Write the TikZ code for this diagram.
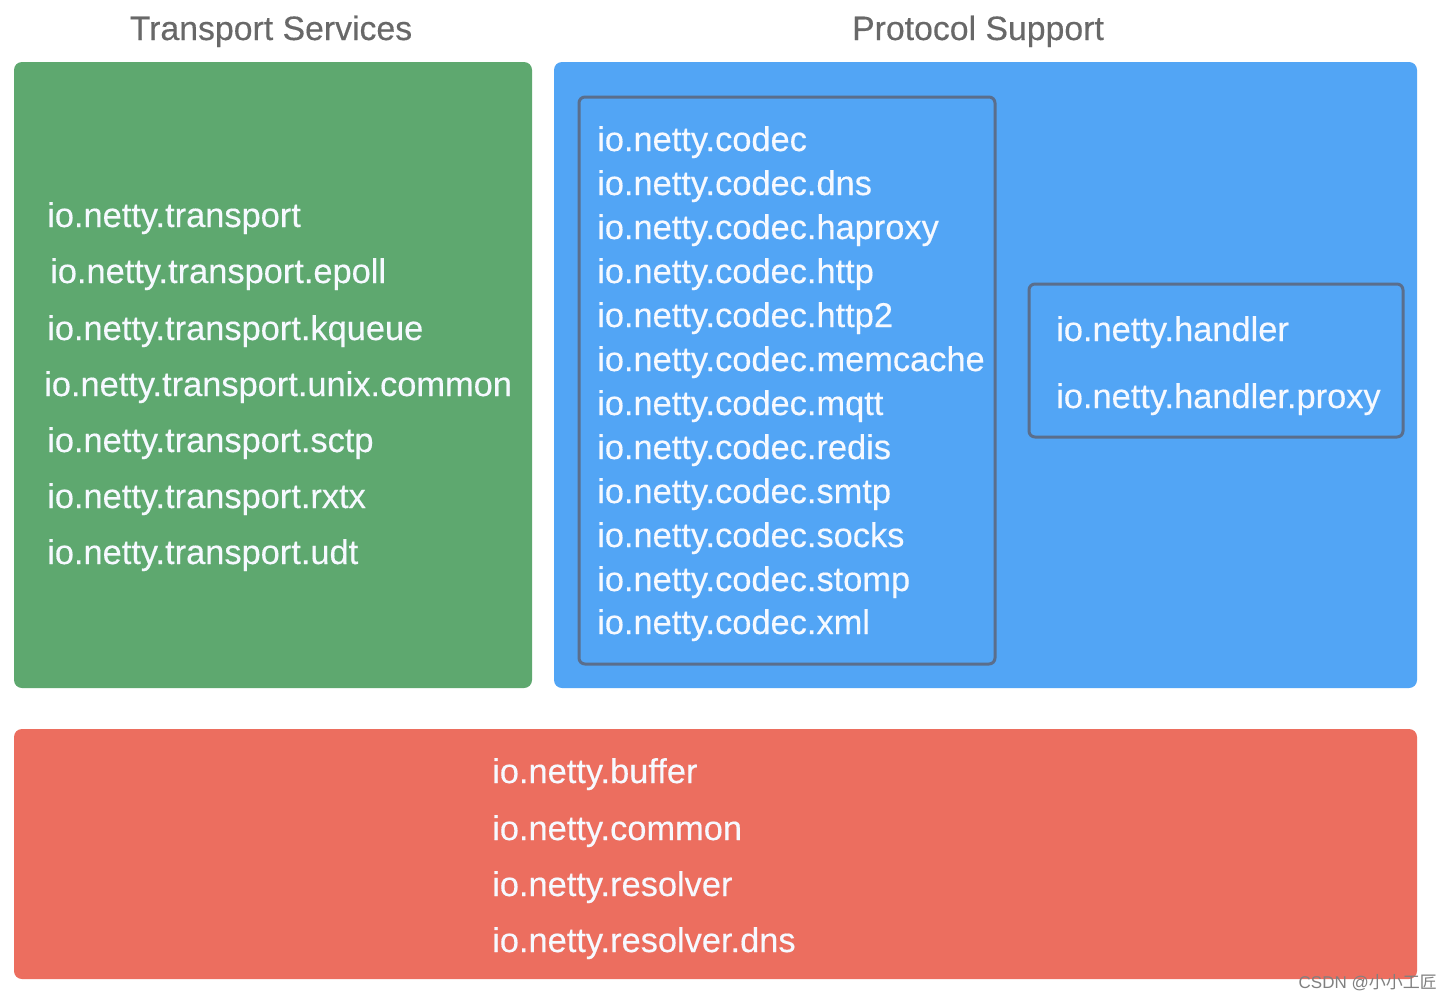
\documentclass[tikz,border=0pt]{standalone}
\usepackage{fontspec}
\setmainfont{Liberation Sans}
\newfontfamily\medfont[FakeBold=0.35]{Liberation Sans}
\newfontfamily\cjkfont{Noto Sans CJK SC}
\definecolor{tgreen}{HTML}{5EA86F}
\definecolor{pblue}{HTML}{52A5F5}
\definecolor{cred}{HTML}{EC6E5F}
\definecolor{innerline}{HTML}{5A6E8C}
\definecolor{titlegray}{HTML}{686868}
\definecolor{txt}{HTML}{F6F9FF}
\begin{document}
\begin{tikzpicture}[x=1pt,y=-1pt,
  panel/.style={rounded corners=8pt, draw=none},
  innerbox/.style={rounded corners=6pt, draw=innerline, line width=3pt},
  pkg/.style={anchor=west, inner sep=0pt, text=txt, font=\medfont\fontsize{34.4}{40}\selectfont, text height=25pt, text depth=7pt},
  title/.style={anchor=center, inner sep=0pt, text=titlegray, font=\medfont\fontsize{33.8}{40}\selectfont, text height=25pt, text depth=7pt}]
\path[use as bounding box, fill=white] (0,0) rectangle (1453,1001);
% panels
\fill[tgreen, panel] (14,62) rectangle (532,688);
\fill[pblue, panel] (554,62) rectangle (1417,688);
\fill[cred, panel] (14,729) rectangle (1417,979);
\draw[innerbox] (579,97) rectangle (995,664);
\draw[innerbox] (1029,284) rectangle (1403,437);
% titles
\node[title] (t1) at (271,31) {Transport Services};
\node[title] (t2) at (978,31) {Protocol Support};
% transport
\node[pkg] (a1) at (47,218) {io.netty.transport};
\node[pkg] (a2) at (50,274) {io.netty.transport.epoll};
\node[pkg] (a3) at (47,331) {io.netty.transport.kqueue};
\node[pkg] (a4) at (44,387) {io.netty.transport.unix.common};
\node[pkg] (a5) at (47,443) {io.netty.transport.sctp};
\node[pkg] (a6) at (47,499) {io.netty.transport.rxtx};
\node[pkg] (a7) at (47,555) {io.netty.transport.udt};
% codec
\node[pkg] (c1) at (597,142) {io.netty.codec};
\node[pkg] (c2) at (597,186) {io.netty.codec.dns};
\node[pkg] (c3) at (597,230) {io.netty.codec.haproxy};
\node[pkg] (c4) at (597,274) {io.netty.codec.http};
\node[pkg] (c5) at (597,318) {io.netty.codec.http2};
\node[pkg] (c6) at (597,362) {io.netty.codec.memcache};
\node[pkg] (c7) at (597,406) {io.netty.codec.mqtt};
\node[pkg] (c8) at (597,450) {io.netty.codec.redis};
\node[pkg] (c9) at (597,494) {io.netty.codec.smtp};
\node[pkg] (c10) at (597,538) {io.netty.codec.socks};
\node[pkg] (c11) at (597,582) {io.netty.codec.stomp};
\node[pkg] (c12) at (597,625) {io.netty.codec.xml};
% handler
\node[pkg] (h1) at (1056,332) {io.netty.handler};
\node[pkg] (h2) at (1056,399) {io.netty.handler.proxy};
% common
\node[pkg] (r1) at (492,774) {io.netty.buffer};
\node[pkg] (r2) at (492,831) {io.netty.common};
\node[pkg] (r3) at (492,887) {io.netty.resolver};
\node[pkg] (r4) at (492,943) {io.netty.resolver.dns};
% watermark
\node[anchor=east, inner sep=0pt, text=gray, font=\fontsize{17}{20}\selectfont] (wm) at (1437,983) {CSDN @{\cjkfont 小小工匠}};
\end{tikzpicture}
\end{document}
